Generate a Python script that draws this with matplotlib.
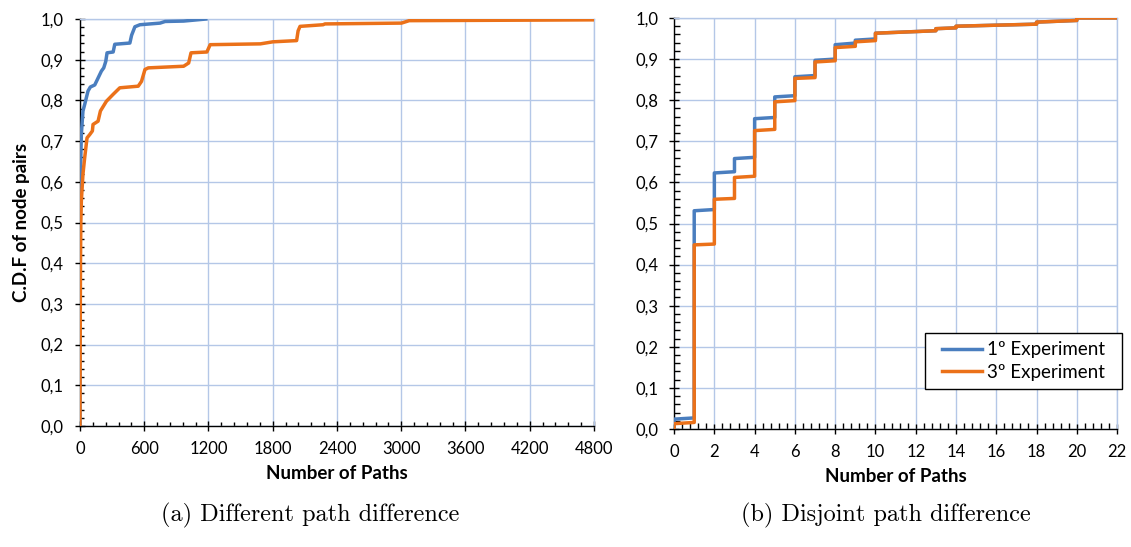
import matplotlib
matplotlib.use('Agg')
import matplotlib.pyplot as plt
from matplotlib.patches import Rectangle
from matplotlib.ticker import MultipleLocator, FixedLocator

# ---------------- data ----------------
# (a) different path difference, CDF
diff_x_exp1 = [0, 1, 2, 4, 8, 13, 28, 44, 75, 97, 138, 169, 200, 222, 241, 253, 310, 325,
               466, 482, 513, 560, 748, 795, 968, 1175]
diff_y_exp1 = [0.0, 0.30, 0.45, 0.586, 0.66, 0.717, 0.774, 0.790, 0.823, 0.833, 0.838, 0.855,
               0.872, 0.880, 0.896, 0.917, 0.919, 0.938, 0.941, 0.960, 0.981, 0.986, 0.990,
               0.994, 0.995, 1.0]
diff_x_exp3 = [0, 2, 5, 8, 13, 28, 44, 66, 91, 116, 122, 169, 191, 247, 310, 372, 544, 575,
               607, 638, 968, 1015, 1037, 1185, 1216, 1685, 1801, 2023, 2037, 2055, 2270,
               2288, 3002, 3074, 4800]
diff_y_exp3 = [0.0, 0.20, 0.40, 0.50, 0.553, 0.619, 0.659, 0.708, 0.716, 0.725, 0.741, 0.749,
               0.774, 0.798, 0.815, 0.831, 0.835, 0.847, 0.876, 0.880, 0.884, 0.892, 0.917,
               0.919, 0.937, 0.939, 0.944, 0.947, 0.971, 0.982, 0.986, 0.988, 0.990, 0.996,
               0.998]

# (b) disjoint path difference, step CDF (value at start / end of each step)
disj_x = [0, 1, 2, 3, 4, 5, 6, 7, 8, 9, 10, 13, 14, 18, 20]
disj_exp1_start = [0.024, 0.531, 0.623, 0.658, 0.755, 0.808, 0.857, 0.897, 0.935, 0.946,
                   0.963, 0.974, 0.980, 0.990, 1.0]
disj_exp1_end = [0.027, 0.534, 0.626, 0.661, 0.758, 0.811, 0.860, 0.900, 0.939, 0.949,
                 0.969, 0.976, 0.985, 0.994, 1.0]
disj_exp3_start = [0.013, 0.448, 0.559, 0.612, 0.726, 0.796, 0.853, 0.893, 0.928, 0.942,
                   0.963, 0.974, 0.980, 0.990, 1.0]
disj_exp3_end = [0.016, 0.450, 0.561, 0.615, 0.729, 0.799, 0.855, 0.896, 0.931, 0.945,
                 0.969, 0.976, 0.985, 0.994, 1.0]
disj_xmax = 22

series_names = ['1º Experiment', '3º Experiment']
ytick_vals = [i / 10 for i in range(11)]
ytick_labels = ['0,0', '0,1', '0,2', '0,3', '0,4', '0,5', '0,6', '0,7', '0,8', '0,9', '1,0']
xticks_a = [0, 600, 1200, 1800, 2400, 3000, 3600, 4200, 4800]
xticks_b = list(range(0, 23, 2))

BLUE = '#4A7EBF'
ORANGE = '#EB7119'
GRID = '#B4C7E7'
FONT = 'Lato'
LW = 2.5

plt.rcParams['font.family'] = [FONT, 'DejaVu Sans']


def step_path(xs, starts, ends, xmax):
    # build the staircase: flat-ish run then vertical rise
    px = [xs[0]]
    py = [0.0]
    for i in range(len(xs)):
        nxt = xs[i + 1] if i + 1 < len(xs) else xmax
        px += [xs[i], nxt]
        py += [starts[i], ends[i]]
    return px, py


def style_axes(ax, xmax, xmajor, xminor, minor_len):
    ax.set_ylim(0, 1)
    ax.set_xlim(0, xmax)
    ax.yaxis.set_major_locator(FixedLocator(ytick_vals))
    ax.set_yticklabels(ytick_labels)
    ax.yaxis.set_minor_locator(MultipleLocator(0.02))
    ax.xaxis.set_major_locator(FixedLocator(xmajor))
    ax.set_xticklabels([str(v) for v in xmajor])
    ax.xaxis.set_minor_locator(MultipleLocator(xminor))
    ax.grid(True, which='major', color=GRID, linewidth=1.0, zorder=0)
    ax.set_axisbelow(True)
    for s in ['top', 'right']:
        ax.spines[s].set_color(GRID)
        ax.spines[s].set_linewidth(1.0)
    for s in ['left', 'bottom']:
        ax.spines[s].set_color('black')
        ax.spines[s].set_linewidth(1.0)
    ax.tick_params(which='major', direction='inout', length=7, width=1.0,
                   labelsize=12, color='black')
    ax.tick_params(which='minor', direction='in', length=minor_len, width=1.0, color='black')
    ax.tick_params(axis='y', which='major', pad=8)
    ax.tick_params(axis='x', which='major', pad=7)


fig = plt.figure(figsize=(11.31, 5.47), dpi=100)

# ---------- (a) ----------
ax1 = fig.add_axes([0.0707, 0.2212, 0.4545, 0.744])
ax1.plot(diff_x_exp1, diff_y_exp1, color=BLUE, linewidth=LW, zorder=3,
         solid_joinstyle='round')
ax1.plot(diff_x_exp3, diff_y_exp3, color=ORANGE, linewidth=LW, zorder=4,
         solid_joinstyle='round')
style_axes(ax1, 4800, xticks_a, 120, 3)
ax1.set_xlabel('Number of Paths', fontsize=13.5, fontweight='bold', labelpad=6)
ax1.set_ylabel('C.D.F of node pairs', fontsize=13.5, fontweight='bold', labelpad=8)

# ---------- (b) ----------
ax2 = fig.add_axes([0.596, 0.2157, 0.3917, 0.7514])
bx, by = step_path(disj_x, disj_exp1_start, disj_exp1_end, disj_xmax)
ox, oy = step_path(disj_x, disj_exp3_start, disj_exp3_end, disj_xmax)
ax2.plot(bx, by, color=BLUE, linewidth=LW, zorder=3, label=series_names[0])
ax2.plot(ox, oy, color=ORANGE, linewidth=LW, zorder=4, label=series_names[1])
style_axes(ax2, disj_xmax, xticks_b, 0.4, 4)
ax2.set_xlabel('Number of Paths', fontsize=13.5, fontweight='bold', labelpad=6)

# legend box drawn separately so the side padding is wider than the top/bottom padding
box = Rectangle((0.5666, 0.0973), 0.4447, 0.1363, transform=ax2.transAxes,
                facecolor='white', edgecolor='black', linewidth=1.0,
                clip_on=False, zorder=9)
ax2.add_patch(box)
leg = ax2.legend(loc='center', bbox_to_anchor=(0.789, 0.1655), borderaxespad=0,
                 fontsize=13.5, frameon=False, handlelength=2.15, handletextpad=0.25,
                 borderpad=0.0, labelspacing=0.3)
leg.set_zorder(10)

# captions
fig.text(0.274, 0.0585, '(a) Different path difference', ha='center', va='center',
         fontsize=17.5, family='cmr10')
fig.text(0.783, 0.0585, '(b) Disjoint path difference', ha='center', va='center',
         fontsize=17.5, family='cmr10')

fig.savefig('out.png', dpi=100)
